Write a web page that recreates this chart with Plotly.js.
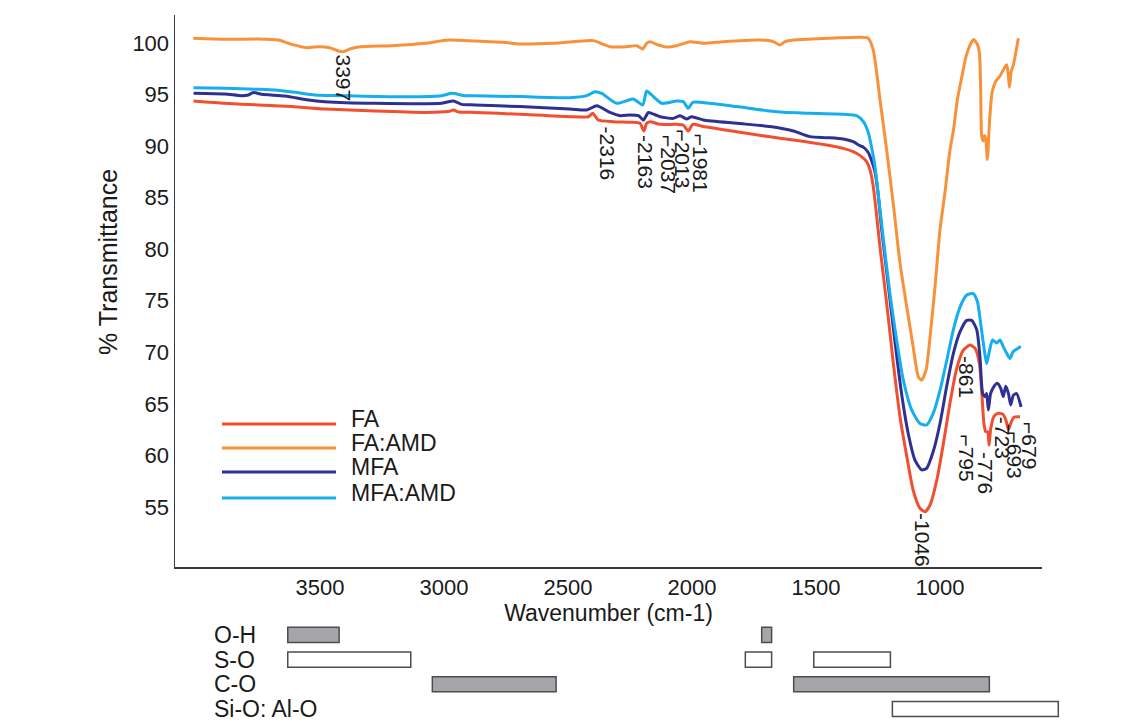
<!DOCTYPE html>
<html><head><meta charset="utf-8">
<script src="https://cdn.plot.ly/plotly-3.0.1.min.js"></script>
<style>html,body{margin:0;padding:0;background:#fff}#chart{width:1138px;height:721px}</style>
</head><body><div id="chart"></div>
<script>
// ---------- data ----------
const seriesNames = ["FA", "FA:AMD", "MFA", "MFA:AMD"];
const seriesColors = ["#f04f30", "#f7923a", "#2e3192", "#16aeed"];

// [wavenumber (cm-1), % transmittance]
const FA = [[4010,94.38],[3883,94.15],[3749,93.99],[3614,93.83],[3480,93.6],[3278,93.4],[3077,93.27],[2983,93.35],[2962,93.5],[2940,93.3],[2875,93.27],[2694,93.08],[2492,92.85],[2418,92.85],[2400,93.18],[2378,92.53],[2317,92.37],[2250,92.31],[2210,92.21],[2194,91.46],[2183,92.21],[2169,92.37],[2129,92.11],[2062,92.11],[2035,92.05],[2015,91.46],[1997,92.11],[1954,91.9],[1820,91.4],[1686,90.9],[1591,90.59],[1457,90.1],[1390,89.78],[1350,89.46],[1323,89.1],[1296,88.49],[1282,87.68],[1269,86.06],[1255,83.15],[1242,80.2],[1215,74.75],[1188,68.9],[1161,63.7],[1134,59.9],[1108,56.6],[1081,54.87],[1060,54.54],[1040,55.2],[1013,57.6],[986,61.2],[960,65.05],[933,68.4],[906,70.2],[879,70.7],[859,70.4],[841,68.9],[832,66.3],[823,63.1],[816,62.3],[808,62.3],[802,61.0],[796,62.5],[782,63.8],[765,64.08],[747,64.0],[734,63.4],[724,62.5],[715,63.1],[702,63.7],[677,63.75]];

const FA_AMD = [[4011,100.45],[3883,100.36],[3749,100.39],[3668,100.29],[3614,99.87],[3554,99.55],[3507,99.64],[3480,99.61],[3453,99.48],[3426,99.23],[3406,99.16],[3379,99.42],[3345,99.61],[3211,99.74],[3077,99.97],[2983,100.29],[2875,100.2],[2761,100.07],[2694,99.9],[2559,99.97],[2398,100.23],[2358,99.87],[2331,99.64],[2264,99.64],[2223,99.74],[2199,99.42],[2183,99.97],[2169,100.13],[2143,99.87],[2102,99.61],[2062,99.74],[2008,100.13],[1954,99.97],[1874,100.13],[1726,100.29],[1672,100.13],[1645,99.81],[1625,100.13],[1591,100.29],[1457,100.45],[1323,100.55],[1289,100.45],[1269,99.3],[1242,94.5],[1215,89.6],[1188,84.3],[1161,78.6],[1134,74.4],[1108,70.5],[1087,67.6],[1074,67.3],[1056,68.3],[1040,71.5],[1020,76.4],[1000,81.9],[980,85.5],[960,89.6],[946,91.5],[930,94.5],[913,96.6],[895,98.7],[879,99.8],[865,100.35],[850,99.9],[841,99.0],[836,95.5],[832,91.0],[826,90.5],[821,91.0],[816,90.8],[809,88.7],[800,92.5],[790,95.2],[775,96.3],[758,96.8],[740,97.6],[731,97.9],[725,97.0],[720,95.7],[713,97.2],[704,97.9],[684,100.45]];

const MFA = [[4010,95.12],[3883,95.05],[3816,94.89],[3789,94.96],[3769,95.2],[3735,95.02],[3641,94.86],[3547,94.47],[3480,94.31],[3278,94.15],[3009,94.15],[2962,94.38],[2929,94.05],[2875,93.99],[2694,93.83],[2492,93.6],[2425,93.5],[2384,93.92],[2331,93.27],[2290,92.95],[2250,93.02],[2216,92.95],[2196,92.53],[2176,93.27],[2163,93.18],[2129,92.85],[2075,92.69],[2048,92.95],[2022,92.63],[2001,92.85],[1954,92.53],[1820,92.21],[1686,91.9],[1591,91.47],[1524,90.92],[1457,90.82],[1390,90.69],[1350,90.43],[1323,90.04],[1309,89.9],[1290,89.4],[1276,88.6],[1262,87.5],[1250,85.5],[1235,81.9],[1208,76.4],[1181,70.9],[1155,66.0],[1128,62.1],[1101,59.55],[1074,58.6],[1054,58.75],[1027,60.4],[1000,63.1],[973,66.7],[946,69.9],[919,72.0],[892,73.1],[872,73.1],[852,72.2],[839,69.6],[828,66.0],[819,65.7],[812,66.0],[805,64.4],[796,66.0],[782,66.7],[769,67.0],[755,66.5],[745,65.7],[735,66.7],[724,66.0],[715,64.9],[704,65.85],[691,66.0],[673,64.7]];

const MFA_AMD = [[4010,95.67],[3883,95.6],[3749,95.51],[3682,95.44],[3601,95.22],[3520,94.96],[3413,94.89],[3211,94.79],[3009,94.89],[2969,95.12],[2915,94.89],[2875,94.89],[2694,94.8],[2492,94.7],[2425,94.89],[2391,95.28],[2364,95.12],[2304,94.15],[2237,94.57],[2199,93.99],[2183,95.35],[2163,94.96],[2122,94.15],[2062,94.37],[2035,94.31],[2015,93.66],[1997,94.25],[1928,94.15],[1820,93.83],[1686,93.4],[1632,93.28],[1524,93.18],[1390,93.08],[1336,92.95],[1309,92.37],[1289,91.3],[1276,89.9],[1262,88.0],[1250,85.5],[1228,80.9],[1202,75.7],[1175,71.2],[1148,67.3],[1114,64.4],[1081,63.1],[1054,62.95],[1027,64.1],[1000,66.3],[973,69.2],[946,72.2],[919,74.4],[892,75.56],[866,75.7],[849,74.9],[836,72.8],[823,70.5],[812,68.9],[801,70.1],[788,71.2],[772,70.9],[758,71.2],[745,70.55],[731,69.9],[718,69.4],[704,70.1],[684,70.4],[675,70.6]];

const seriesData = [FA, FA_AMD, MFA, MFA_AMD];

const yTicks = [55, 60, 65, 70, 75, 80, 85, 90, 95, 100];
const xTicks = [3500, 3000, 2500, 2000, 1500, 1000];

// peak labels
const peakText = ["3397", "-2316", "-2163", "\u23102037", "\u23102013", "\u23101981", "-1046", "-861", "\u2310795", "-776", "-723", "\u2310693", "\u2310679"];
const peakW    = [3407, 2339, 2190, 2097, 2040, 1968, 1073, 891, 891, 819, 750, 698, 637];
const peakT    = [96.65, 89.28, 88.46, 88.17, 88.8, 88.3, 51.8, 67.6, 59.8, 58.3, 61.7, 60.0, 61.0];

// band assignments (lower panel)
const bandRows   = ["O-H", "S-O", "C-O", "Si-O: Al-O"];
const bandLabel  = ["O-H", "O-H", "S-O", "S-O", "S-O", "C-O", "C-O", "Si-O: Al-O"];
const bandFrom   = [3630, 1719, 3630, 1785, 1509, 3047, 1590, 1192];
const bandTo     = [3423, 1679, 3134, 1679, 1200, 2548, 801, 523];
const bandFilled = [true, true, false, false, false, true, true, false];

// ---------- layout geometry ----------
const W = 1138, H = 721;
const M = {l: 175, r: 68, t: 15, b: 0};
const PW = W - M.l - M.r, PH = H - M.t - M.b;
const pxX = px => (px - M.l) / PW;
const pxY = py => (H - M.b - py) / PH;
// wavenumber scale: 3500 at px 320, 0.248 px per cm-1
const wAt = px => 3500 - (px - 320) / 0.248;
const tAt = py => 100 - (py - 43) / 10.31;
const mainRight = 1042, mainBottom = 567;
const rowPx = 24.7, lowestRowPx = 709, bandTopPx = 621;

const FONT = "Liberation Sans, Arial, Helvetica, sans-serif";
const INK = "#1a1a1a";

const traces = seriesData.map((d, i) => ({
  type: "scatter", mode: "lines", name: seriesNames[i],
  x: d.map(p => p[0]), y: d.map(p => p[1]),
  line: {color: seriesColors[i], width: 3, shape: "spline", smoothing: 0.6},
  xaxis: "x", yaxis: "y", showlegend: false, hoverinfo: "skip"
}));

const rowIndex = lbl => bandRows.length - 1 - bandRows.indexOf(lbl);
[true, false].forEach(filled => {
  const idx = bandLabel.map((_, i) => i).filter(i => bandFilled[i] === filled);
  traces.push({
    type: "bar", orientation: "h", xaxis: "x2", yaxis: "y2",
    y: idx.map(i => rowIndex(bandLabel[i])),
    base: idx.map(i => Math.min(bandFrom[i], bandTo[i])),
    x: idx.map(i => Math.abs(bandFrom[i] - bandTo[i])),
    width: 0.61,
    marker: {color: filled ? "#a4a6a9" : "#ffffff", line: {color: "#4d4d4f", width: 1.5}},
    showlegend: false, hoverinfo: "skip"
  });
});

const annotations = [];
const shapes = [];
peakText.forEach((t, i) => annotations.push({
  x: peakW[i], y: peakT[i], xref: "x", yref: "y", text: t, textangle: 90,
  showarrow: false, xanchor: "center", yanchor: "middle",
  font: {family: FONT, size: 21, color: INK}
}));
bandRows.forEach(r => annotations.push({
  x: pxX(212), y: rowIndex(r), xref: "paper", yref: "y2", text: r,
  showarrow: false, xanchor: "left", yanchor: "middle",
  font: {family: FONT, size: 23, color: INK}
}));
const legendLinePy = [424, 448, 472, 498];
seriesNames.forEach((n, i) => {
  shapes.push({type: "line", xref: "paper", yref: "paper",
    x0: pxX(222), x1: pxX(336), y0: pxY(legendLinePy[i]), y1: pxY(legendLinePy[i]),
    line: {color: seriesColors[i], width: 3}});
  annotations.push({x: pxX(350), y: pxY(legendLinePy[i] - 5), xref: "paper", yref: "paper",
    text: n, showarrow: false, xanchor: "left", yanchor: "middle", height: 22, borderpad: 0,
    font: {family: FONT, size: 23, color: INK}});
});
// y-axis title (placed like the reference, above the axis centre)
annotations.push({x: pxX(108), y: pxY(262), xref: "paper", yref: "paper",
  text: "% Transmittance", textangle: -90, showarrow: false,
  xanchor: "center", yanchor: "middle", font: {family: FONT, size: 25, color: INK}});

const axisLine = {showline: true, linecolor: "#3a3a3a", linewidth: 1.5, ticks: "", showgrid: false, zeroline: false};

const layout = {
  width: W, height: H, margin: M, paper_bgcolor: "#fff", plot_bgcolor: "rgba(0,0,0,0)",
  font: {family: FONT, size: 22, color: INK},
  showlegend: false, barmode: "overlay",
  xaxis: Object.assign({}, axisLine, {
    domain: [0, pxX(mainRight)], range: [wAt(M.l), wAt(mainRight)], anchor: "y",
    tickvals: xTicks, ticktext: xTicks.map(String),
    tickfont: {family: FONT, size: 22, color: INK},
    title: {text: "Wavenumber (cm-1)", font: {family: FONT, size: 23, color: INK}, standoff: 6}
  }),
  yaxis: Object.assign({}, axisLine, {
    domain: [pxY(mainBottom), 1], range: [tAt(mainBottom), tAt(M.t)], anchor: "x",
    tickvals: yTicks, ticktext: yTicks.map(String),
    tickfont: {family: FONT, size: 22, color: INK}
  }),
  xaxis2: {domain: [0, 1], range: [wAt(M.l), wAt(W - M.r)], anchor: "y2", visible: false, fixedrange: true},
  yaxis2: {domain: [0, pxY(bandTopPx)], range: [(lowestRowPx - (H - M.b)) / rowPx, (lowestRowPx - bandTopPx) / rowPx],
           anchor: "x2", visible: false, fixedrange: true},
  annotations: annotations, shapes: shapes
};

Plotly.newPlot("chart", traces, layout, {displayModeBar: false, staticPlot: true});
</script>
</body></html>
